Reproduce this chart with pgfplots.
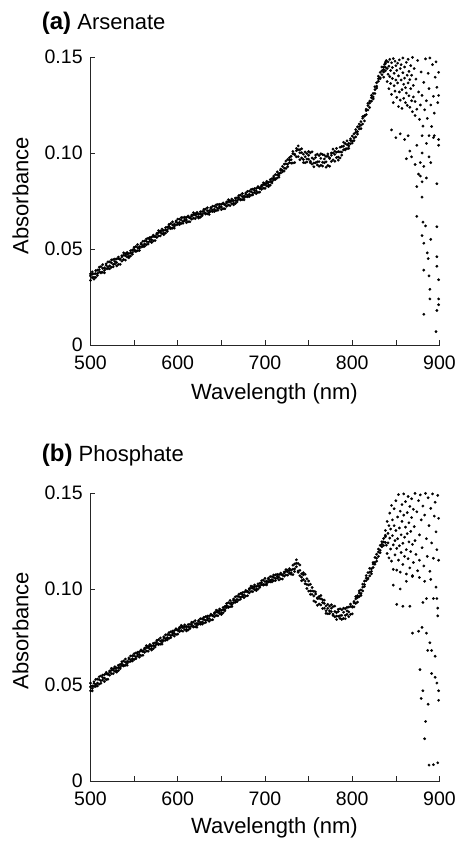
\documentclass[border=0pt]{standalone}
\usepackage{fontspec}
\setmainfont{Liberation Sans}
\usepackage{pgfplots}
\usepackage{pgfplotstable}
\pgfplotsset{compat=1.18}

\pgfplotstableread{
x a b c
500 0.0370 0.0337 0.0360
502 0.0351 0.0369 0.0381
504 0.0371 0.0353 0.0343
506 0.0352 0.0387 0.0372
508 0.0390 0.0372 0.0362
510 0.0380 0.0406 0.0393
512 0.0408 0.0375 0.0380
514 0.0379 0.0399 0.0419
516 0.0402 0.0376 0.0389
518 0.0397 0.0415 0.0423
520 0.0433 0.0407 0.0397
522 0.0397 0.0433 0.0412
524 0.0428 0.0405 0.0443
526 0.0420 0.0445 0.0407
528 0.0448 0.0422 0.0435
530 0.0412 0.0448 0.0430
532 0.0450 0.0420 0.0458
534 0.0445 0.0448 0.0420
536 0.0437 0.0465 0.0458
538 0.0480 0.0445 0.0468
540 0.0475 0.0442 0.0465
542 0.0458 0.0472 0.0482
544 0.0476 0.0462 0.0454
546 0.0463 0.0491 0.0479
548 0.0495 0.0481 0.0473
550 0.0489 0.0509 0.0499
552 0.0513 0.0487 0.0491
554 0.0491 0.0507 0.0523
556 0.0512 0.0492 0.0502
558 0.0510 0.0524 0.0530
560 0.0540 0.0520 0.0512
562 0.0514 0.0542 0.0526
564 0.0540 0.0522 0.0552
566 0.0536 0.0556 0.0526
568 0.0560 0.0540 0.0550
570 0.0534 0.0562 0.0548
572 0.0566 0.0542 0.0572
574 0.0564 0.0566 0.0544
576 0.0560 0.0582 0.0576
578 0.0596 0.0568 0.0586
580 0.0594 0.0568 0.0586
582 0.0580 0.0594 0.0604
584 0.0597 0.0583 0.0575
586 0.0583 0.0611 0.0599
588 0.0614 0.0600 0.0592
590 0.0608 0.0628 0.0618
592 0.0632 0.0606 0.0610
594 0.0609 0.0625 0.0641
596 0.0629 0.0609 0.0619
598 0.0626 0.0640 0.0646
600 0.0656 0.0636 0.0628
602 0.0627 0.0655 0.0639
604 0.0651 0.0633 0.0663
606 0.0644 0.0664 0.0634
608 0.0666 0.0646 0.0656
610 0.0637 0.0665 0.0651
612 0.0666 0.0642 0.0672
614 0.0662 0.0664 0.0642
616 0.0655 0.0677 0.0671
618 0.0689 0.0661 0.0679
620 0.0684 0.0658 0.0676
622 0.0667 0.0681 0.0691
624 0.0683 0.0669 0.0661
626 0.0666 0.0694 0.0682
628 0.0695 0.0681 0.0673
630 0.0687 0.0707 0.0697
632 0.0708 0.0682 0.0686
634 0.0683 0.0699 0.0715
636 0.0700 0.0680 0.0690
638 0.0696 0.0710 0.0716
640 0.0723 0.0703 0.0695
642 0.0695 0.0723 0.0707
644 0.0718 0.0700 0.0730
646 0.0712 0.0732 0.0702
648 0.0733 0.0713 0.0723
650 0.0705 0.0733 0.0719
652 0.0734 0.0710 0.0740
654 0.0730 0.0732 0.0710
656 0.0723 0.0745 0.0739
658 0.0757 0.0729 0.0747
660 0.0752 0.0726 0.0744
662 0.0736 0.0750 0.0760
664 0.0752 0.0738 0.0730
666 0.0737 0.0765 0.0753
668 0.0767 0.0753 0.0745
670 0.0759 0.0779 0.0769
672 0.0781 0.0755 0.0759
674 0.0757 0.0773 0.0789
676 0.0776 0.0756 0.0766
678 0.0772 0.0786 0.0792
680 0.0800 0.0780 0.0772
682 0.0773 0.0801 0.0785
684 0.0798 0.0780 0.0810
686 0.0792 0.0812 0.0782
688 0.0815 0.0795 0.0805
690 0.0788 0.0816 0.0802
692 0.0819 0.0795 0.0825
694 0.0816 0.0818 0.0796
696 0.0810 0.0832 0.0826
698 0.0845 0.0817 0.0835
700 0.0842 0.0816 0.0834
702 0.0828 0.0842 0.0852
704 0.0847 0.0833 0.0825
706 0.0833 0.0861 0.0849
708 0.0866 0.0852 0.0844
710 0.0860 0.0880 0.0870
712 0.0888 0.0862 0.0866
714 0.0870 0.0886 0.0902
716 0.0894 0.0874 0.0884
718 0.0896 0.0910 0.0916
720 0.0930 0.0910 0.0902
722 0.0906 0.0942 0.0921
724 0.0943 0.0920 0.0958
726 0.0942 0.0967 0.0929
728 0.0976 0.0950 0.0963
730 0.0947 0.0983 0.0965
732 0.0996 0.0948 0.1008
734 0.0990 0.0994 0.0950
736 0.0980 0.1024 0.1012
738 0.1037 0.0981 0.1017
740 0.1017 0.0965 0.1001
742 0.0974 0.1002 0.1022
744 0.0994 0.0966 0.0950
746 0.0949 0.1005 0.0981
748 0.0997 0.0969 0.0953
750 0.0968 0.1008 0.0988
752 0.1001 0.0949 0.0957
754 0.0942 0.0974 0.1006
756 0.0968 0.0928 0.0948
758 0.0949 0.0977 0.0989
760 0.0994 0.0954 0.0938
762 0.0931 0.0987 0.0955
764 0.0972 0.0936 0.0996
766 0.0952 0.0992 0.0932
768 0.0989 0.0949 0.0969
770 0.0926 0.0982 0.0954
772 0.0983 0.0935 0.0995
774 0.0971 0.0975 0.0931
776 0.0956 0.1000 0.0988
778 0.1020 0.0964 0.1000
780 0.1009 0.0957 0.0993
782 0.0976 0.1004 0.1024
784 0.1007 0.0979 0.0963
786 0.0974 0.1030 0.1006
788 0.1033 0.1005 0.0989
790 0.1016 0.1056 0.1036
792 0.1049 0.1016 0.1021
794 0.1023 0.1043 0.1063
796 0.1050 0.1024 0.1037
798 0.1048 0.1066 0.1074
800 0.1088 0.1062 0.1052
802 0.1064 0.1100 0.1079
804 0.1107 0.1084 0.1122
806 0.1111 0.1136 0.1098
808 0.1151 0.1125 0.1138
810 0.1127 0.1163 0.1145
812 0.1181 0.1151 0.1189
814 0.1192 0.1195 0.1167
816 0.1200 0.1228 0.1221
818 0.1259 0.1224 0.1247
820 0.1270 0.1237 0.1260
822 0.1270 0.1288 0.1300
824 0.1310 0.1292 0.1282
826 0.1310 0.1345 0.1330
828 0.1366 0.1348 0.1338
830 0.1374 0.1400 0.1387
832 0.1420 0.1387 0.1392
834 0.1408 0.1428 0.1448
836 0.1448 0.1422 0.1435
838 0.1447 0.1465 0.1473
}\arsenate

\pgfplotstableread[row sep=\\]{
x y\\
836 0.1395\\ 837 0.1462\\ 838 0.1428\\ 839 0.1481\\ 840 0.1440\\ 840 0.1372\\ 841 0.1475\\ 841 0.1410\\
842 0.1452\\ 842 0.1335\\ 843 0.1488\\ 843 0.1398\\ 844 0.1430\\ 844 0.1362\\ 845 0.1470\\ 845 0.1305\\
846 0.1445\\ 846 0.1388\\ 847 0.1492\\ 847 0.1262\\ 848 0.1415\\ 848 0.1350\\ 849 0.1478\\ 849 0.1322\\
850 0.1455\\ 850 0.1380\\ 851 0.1290\\ 851 0.1430\\ 852 0.1468\\ 852 0.1365\\ 853 0.1242\\ 853 0.1402\\
854 0.1485\\ 854 0.1318\\ 855 0.1440\\ 855 0.1275\\ 856 0.1380\\ 856 0.1460\\ 857 0.1330\\ 857 0.1232\\
858 0.1418\\ 858 0.1495\\ 859 0.1358\\ 859 0.1285\\ 860 0.1448\\ 860 0.1390\\ 861 0.1262\\ 861 0.1340\\
862 0.1472\\ 862 0.1312\\ 863 0.1405\\ 863 0.1248\\ 864 0.1365\\ 864 0.1488\\ 865 0.1298\\ 865 0.1425\\
866 0.1382\\ 866 0.1238\\ 867 0.1455\\ 867 0.1335\\ 868 0.1272\\ 868 0.1405\\ 869 0.1215\\ 869 0.1498\\
870 0.1352\\ 870 0.1292\\ 871 0.1440\\ 872 0.1268\\ 872 0.1195\\ 873 0.1385\\ 874 0.1228\\ 875 0.1482\\
876 0.1318\\ 877 0.1175\\ 878 0.1250\\ 879 0.1422\\ 880 0.1300\\ 881 0.1140\\ 882 0.1368\\ 883 0.1225\\
884 0.1490\\ 885 0.1272\\ 886 0.1180\\ 887 0.1415\\ 888 0.1335\\ 889 0.1495\\ 890 0.1250\\ 891 0.1138\\
892 0.1460\\ 893 0.1295\\ 894 0.1208\\ 895 0.1395\\ 896 0.1475\\ 897 0.1342\\ 898 0.1262\\ 899 0.1420\\
899 0.1300\\
845 0.1120\\ 850 0.1080\\ 855 0.1100\\ 860 0.1070\\ 864 0.1090\\ 868 0.0980\\ 862 0.0970\\ 874 0.1040\\
880 0.1090\\ 885 0.1050\\ 888 0.1090\\ 894 0.1090\\ 899 0.1070\\ 899 0.1040\\ 872 0.0940\\ 878 0.0950\\
882 0.0930\\ 890 0.0950\\ 888 0.0980\\ 880 0.1000\\ 874 0.0825\\ 880 0.0770\\ 880 0.0850\\ 897 0.0840\\
885 0.0870\\ 878 0.0880\\ 876 0.0890\\ 866 0.1010\\ 893 0.1080\\
874 0.0670\\ 881 0.0640\\ 880 0.0570\\ 882 0.0530\\ 886 0.0480\\ 890 0.0550\\ 882 0.0390\\ 888 0.0360\\
897 0.0460\\ 897 0.0410\\ 899 0.0340\\ 889 0.0290\\ 889 0.0240\\ 899 0.0240\\ 899 0.0210\\ 897 0.0180\\
882 0.0160\\ 896 0.0070\\ 884 0.0620\\ 887 0.0450\\ 897 0.0616\\
}\arsenatescatter

\pgfplotstableread{
x a b c
500 0.0470 0.0490 0.0510
502 0.0495 0.0469 0.0482
504 0.0491 0.0509 0.0517
506 0.0529 0.0503 0.0493
508 0.0495 0.0531 0.0510
510 0.0528 0.0505 0.0543
512 0.0522 0.0547 0.0509
514 0.0552 0.0526 0.0539
516 0.0518 0.0554 0.0536
518 0.0558 0.0528 0.0566
520 0.0555 0.0558 0.0530
522 0.0551 0.0573 0.0567
524 0.0587 0.0559 0.0577
526 0.0585 0.0559 0.0577
528 0.0571 0.0585 0.0595
530 0.0589 0.0575 0.0567
532 0.0575 0.0603 0.0591
534 0.0607 0.0593 0.0585
536 0.0601 0.0621 0.0611
538 0.0625 0.0599 0.0603
540 0.0603 0.0619 0.0635
542 0.0623 0.0603 0.0613
544 0.0621 0.0635 0.0641
546 0.0651 0.0631 0.0623
548 0.0625 0.0653 0.0637
550 0.0651 0.0633 0.0663
552 0.0647 0.0667 0.0637
554 0.0671 0.0651 0.0661
556 0.0645 0.0673 0.0659
558 0.0677 0.0653 0.0683
560 0.0675 0.0677 0.0655
562 0.0670 0.0692 0.0686
564 0.0705 0.0677 0.0695
566 0.0702 0.0676 0.0694
568 0.0687 0.0701 0.0711
570 0.0704 0.0690 0.0682
572 0.0689 0.0717 0.0705
574 0.0720 0.0706 0.0698
576 0.0713 0.0733 0.0723
578 0.0736 0.0710 0.0714
580 0.0713 0.0729 0.0745
582 0.0733 0.0713 0.0723
584 0.0731 0.0745 0.0751
586 0.0761 0.0741 0.0733
588 0.0735 0.0763 0.0747
590 0.0761 0.0743 0.0773
592 0.0757 0.0777 0.0747
594 0.0781 0.0761 0.0771
596 0.0755 0.0783 0.0769
598 0.0787 0.0763 0.0793
600 0.0785 0.0787 0.0765
602 0.0778 0.0800 0.0794
604 0.0811 0.0783 0.0801
606 0.0806 0.0780 0.0798
608 0.0789 0.0803 0.0813
610 0.0804 0.0790 0.0782
612 0.0787 0.0815 0.0803
614 0.0816 0.0802 0.0794
616 0.0807 0.0827 0.0817
618 0.0828 0.0802 0.0806
620 0.0803 0.0819 0.0835
622 0.0821 0.0801 0.0811
624 0.0817 0.0831 0.0837
626 0.0845 0.0825 0.0817
628 0.0817 0.0845 0.0829
630 0.0841 0.0823 0.0853
632 0.0836 0.0856 0.0826
634 0.0859 0.0839 0.0849
636 0.0832 0.0860 0.0846
638 0.0863 0.0839 0.0869
640 0.0860 0.0862 0.0840
642 0.0855 0.0877 0.0871
644 0.0890 0.0862 0.0880
646 0.0887 0.0861 0.0879
648 0.0872 0.0886 0.0896
650 0.0889 0.0875 0.0867
652 0.0876 0.0904 0.0892
654 0.0909 0.0895 0.0887
656 0.0904 0.0924 0.0914
658 0.0929 0.0903 0.0907
660 0.0908 0.0924 0.0940
662 0.0929 0.0909 0.0919
664 0.0928 0.0942 0.0948
666 0.0959 0.0939 0.0931
668 0.0934 0.0962 0.0946
670 0.0961 0.0943 0.0973
672 0.0957 0.0977 0.0947
674 0.0981 0.0961 0.0971
676 0.0955 0.0983 0.0969
678 0.0987 0.0963 0.0993
680 0.0985 0.0987 0.0965
682 0.0980 0.1002 0.0996
684 0.1015 0.0987 0.1005
686 0.1012 0.0986 0.1004
688 0.0997 0.1011 0.1021
690 0.1014 0.1000 0.0992
692 0.0999 0.1027 0.1015
694 0.1030 0.1016 0.1008
696 0.1023 0.1043 0.1033
698 0.1046 0.1020 0.1024
700 0.1023 0.1039 0.1055
702 0.1041 0.1021 0.1031
704 0.1037 0.1051 0.1057
706 0.1065 0.1045 0.1037
708 0.1037 0.1065 0.1049
710 0.1061 0.1043 0.1073
712 0.1054 0.1074 0.1044
714 0.1076 0.1056 0.1066
716 0.1047 0.1075 0.1061
718 0.1077 0.1053 0.1083
720 0.1072 0.1074 0.1052
722 0.1067 0.1089 0.1083
724 0.1101 0.1073 0.1091
726 0.1098 0.1072 0.1090
728 0.1082 0.1096 0.1106
730 0.1099 0.1085 0.1077
732 0.1075 0.1124 0.1103
734 0.1130 0.1105 0.1091
736 0.1116 0.1152 0.1134
738 0.1133 0.1087 0.1094
740 0.1069 0.1097 0.1125
742 0.1079 0.1043 0.1061
744 0.1049 0.1074 0.1085
746 0.1077 0.1041 0.1027
748 0.1003 0.1053 0.1024
750 0.1021 0.0989 0.1042
752 0.0990 0.1025 0.0972
754 0.1008 0.0972 0.0990
756 0.0938 0.0988 0.0963
758 0.0974 0.0932 0.0985
760 0.0950 0.0954 0.0915
762 0.0922 0.0961 0.0951
764 0.0966 0.0917 0.0949
766 0.0944 0.0898 0.0930
768 0.0900 0.0925 0.0942
770 0.0912 0.0887 0.0873
772 0.0871 0.0920 0.0899
774 0.0911 0.0886 0.0872
776 0.0882 0.0918 0.0900
778 0.0908 0.0862 0.0869
780 0.0855 0.0883 0.0911
782 0.0877 0.0841 0.0859
784 0.0858 0.0883 0.0894
786 0.0897 0.0861 0.0847
788 0.0842 0.0892 0.0863
790 0.0879 0.0847 0.0900
792 0.0863 0.0898 0.0845
794 0.0904 0.0868 0.0886
796 0.0856 0.0906 0.0881
798 0.0910 0.0868 0.0921
800 0.0905 0.0909 0.0870
802 0.0907 0.0935 0.0928
804 0.0960 0.0925 0.0948
806 0.0965 0.0932 0.0955
808 0.0960 0.0978 0.0990
810 0.0995 0.0977 0.0967
812 0.0990 0.1025 0.1010
814 0.1041 0.1023 0.1013
816 0.1044 0.1070 0.1057
818 0.1085 0.1052 0.1057
820 0.1068 0.1088 0.1108
822 0.1105 0.1079 0.1092
824 0.1112 0.1130 0.1138
826 0.1165 0.1139 0.1129
828 0.1145 0.1181 0.1160
830 0.1193 0.1170 0.1208
832 0.1202 0.1227 0.1189
834 0.1246 0.1220 0.1233
836 0.1227 0.1263 0.1245
838 0.1272 0.1242 0.1280
}\phosphate

\pgfplotstableread[row sep=\\]{
x y\\
838 0.1305\\ 839 0.1228\\ 840 0.1352\\ 840 0.1185\\ 841 0.1290\\ 841 0.1240\\ 842 0.1330\\ 842 0.1162\\
843 0.1395\\ 843 0.1265\\ 844 0.1208\\ 844 0.1312\\ 845 0.1435\\ 845 0.1145\\ 846 0.1278\\ 846 0.1360\\
847 0.1230\\ 847 0.1102\\ 848 0.1330\\ 848 0.1418\\ 849 0.1252\\ 849 0.1178\\ 850 0.1305\\ 850 0.1460\\
851 0.1212\\ 851 0.1098\\ 852 0.1375\\ 852 0.1262\\ 853 0.1150\\ 853 0.1492\\ 854 0.1318\\ 854 0.1225\\
855 0.1405\\ 855 0.1088\\ 856 0.1282\\ 856 0.1190\\ 857 0.1440\\ 857 0.1352\\ 858 0.1238\\ 858 0.1128\\
859 0.1385\\ 859 0.1495\\ 860 0.1270\\ 860 0.1170\\ 861 0.1455\\ 861 0.1322\\ 862 0.1205\\ 862 0.1078\\
863 0.1398\\ 863 0.1288\\ 864 0.1482\\ 864 0.1158\\ 865 0.1345\\ 865 0.1245\\ 866 0.1430\\ 866 0.1110\\
867 0.1300\\ 867 0.1195\\ 868 0.1470\\ 868 0.1372\\ 869 0.1232\\ 869 0.1065\\ 870 0.1415\\ 870 0.1138\\
871 0.1325\\ 872 0.1498\\ 872 0.1252\\ 873 0.1180\\ 874 0.1402\\ 875 0.1095\\ 876 0.1460\\ 877 0.1282\\
877 0.1150\\ 878 0.1490\\ 879 0.1360\\ 880 0.1215\\ 881 0.1432\\ 882 0.1120\\ 883 0.1385\\ 884 0.1498\\
885 0.1262\\ 886 0.1170\\ 887 0.1475\\ 888 0.1330\\ 889 0.1092\\ 890 0.1420\\ 891 0.1240\\ 892 0.1495\\
893 0.1160\\ 894 0.1380\\ 895 0.1452\\ 896 0.1298\\ 897 0.1205\\ 898 0.1488\\ 899 0.1368\\ 899 0.1150\\
851 0.0920\\ 858 0.0910\\ 866 0.0910\\ 847 0.1020\\ 855 0.1000\\ 862 0.1040\\ 869 0.1070\\ 877 0.1060\\
883 0.1040\\ 890 0.1050\\ 896 0.1010\\ 881 0.0930\\ 885 0.0950\\ 893 0.0950\\ 897 0.0950\\ 898 0.0900\\
898 0.0860\\ 885 0.0770\\ 869 0.0770\\ 876 0.0780\\
877.6 0.0580\\ 886.5 0.0680\\ 891 0.0680\\ 895 0.0650\\ 881 0.0470\\ 879 0.0430\\ 887 0.0400\\ 899 0.0470\\
899 0.0420\\ 897 0.0510\\ 891 0.0560\\ 895 0.0540\\ 884 0.0310\\ 883 0.0220\\ 888 0.0083\\ 893 0.0085\\
898 0.0095\\ 880 0.0800\\ 889 0.0720\\
}\phosphatescatter

\pgfplotsset{
  panel/.style={
    scale only axis, width=349pt, height=288pt,
    xmin=500, xmax=900, ymin=0, ymax=0.15,
    axis x line*=bottom, axis y line*=left,
    axis line style={line width=0.8pt, black!85},
    xtick={500,600,700,800,900}, xticklabels={500,600,700,800,900},
    minor xtick={550,650,750,850},
    ytick={0,0.05,0.1,0.15}, yticklabels={0,0.05,0.10,0.15},
    tick align=inside, major tick length=5pt, minor tick length=5pt,
    every tick/.style={black!85, line width=0.7pt},
    every minor tick/.style={black!85, line width=0.7pt},
    /pgf/number format/assume math mode=true,
    tick label style={font=\fontsize{19.5}{22}\selectfont, text=black},
    xticklabel style={anchor=north, inner sep=0pt, yshift=-11pt},
    yticklabel style={anchor=east, inner sep=0pt, xshift=-7.7pt},
    xlabel={Wavelength (nm)}, ylabel={Absorbance},
    every axis title/.style={anchor=base west, inner sep=0pt},
  },
  dots/.style={only marks, mark=*, mark size=1.25pt, black, mark options={line width=0.3pt}},
}

\begin{document}
\begin{tikzpicture}
\path[use as bounding box] (0pt,0pt) rectangle (458pt,841pt);

\begin{axis}[panel, at={(90.5pt,496pt)}, anchor=south west,
  every axis x label/.style={at={(axis description cs:0.527,-0.1885)}, anchor=base, inner sep=0pt, font=\fontsize{22}{24}\selectfont},
  every axis y label/.style={at={(axis description cs:-0.1782,0.519)}, anchor=base, rotate=90, inner sep=0pt, font=\fontsize{22}{24}\selectfont},
  title style={at={(axis description cs:-0.1398,1.096)}},
  title={{\fontsize{24}{26}\selectfont\bfseries (a)}\fontsize{22}{24}\selectfont{} Arsenate}]
\addplot[dots] table[x=x, y=a] {\arsenate};
\addplot[dots] table[x=x, y=b] {\arsenate};
\addplot[dots] table[x=x, y=c] {\arsenate};
\addplot[dots] table[x=x, y=y] {\arsenatescatter};
\end{axis}

\begin{axis}[panel, at={(90.5pt,60pt)}, anchor=south west,
  every axis x label/.style={at={(axis description cs:0.527,-0.181)}, anchor=base, inner sep=0pt, font=\fontsize{22}{24}\selectfont},
  every axis y label/.style={at={(axis description cs:-0.1782,0.5226)}, anchor=base, rotate=90, inner sep=0pt, font=\fontsize{22}{24}\selectfont},
  title style={at={(axis description cs:-0.1398,1.1087)}},
  title={{\fontsize{24}{26}\selectfont\bfseries (b)}\fontsize{22}{24}\selectfont{} Phosphate}]
\addplot[dots] table[x=x, y=a] {\phosphate};
\addplot[dots] table[x=x, y=b] {\phosphate};
\addplot[dots] table[x=x, y=c] {\phosphate};
\addplot[dots] table[x=x, y=y] {\phosphatescatter};
\end{axis}
\end{tikzpicture}
\end{document}
